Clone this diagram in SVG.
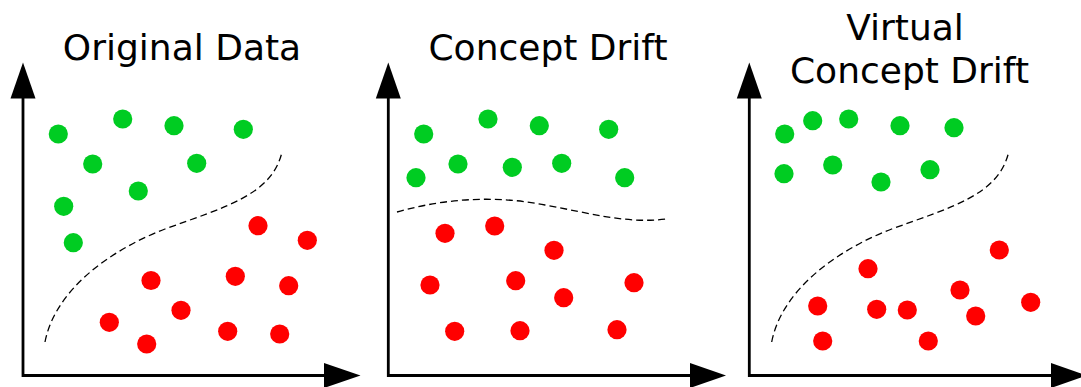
<svg xmlns="http://www.w3.org/2000/svg" width="1081" height="387" viewBox="0 0 1081 387">
<style>
.title{font-family:"DejaVu Sans","Verdana",sans-serif;font-size:36px;fill:#000;text-anchor:middle}
.axis{fill:none;stroke:#000;stroke-width:2.8;stroke-linejoin:miter}
.head{fill:#000}
.g{fill:#00cc22}
.r{fill:#ff0000}
.boundary{fill:none;stroke:#000;stroke-width:1.3;stroke-dasharray:7 4}
</style>
<rect width="1081" height="387" fill="#fff"/>
<g id="panel-original">
  <text class="title" x="182" y="60">Original Data</text>
  <g id="axes-1">
    <path class="axis" d="M23,97 V375.5 H326"/>
    <polygon class="head" points="23,62.5 10.5,98.5 35.5,98.5"/>
    <polygon class="head" points="360.5,375.5 324,363 324,388"/>
  </g>
  <g id="points-1">
    <circle class="g" cx="58.3" cy="134" r="9.6"/>
    <circle class="g" cx="122.7" cy="119" r="9.6"/>
    <circle class="g" cx="174" cy="125.7" r="9.6"/>
    <circle class="g" cx="243.3" cy="129.3" r="9.6"/>
    <circle class="g" cx="92.7" cy="164" r="9.6"/>
    <circle class="g" cx="196.7" cy="163.3" r="9.6"/>
    <circle class="g" cx="138.3" cy="191" r="9.6"/>
    <circle class="g" cx="63.7" cy="206.3" r="9.6"/>
    <circle class="g" cx="73.3" cy="242.7" r="9.6"/>
    <circle class="r" cx="258" cy="225.7" r="9.6"/>
    <circle class="r" cx="307.3" cy="240.3" r="9.6"/>
    <circle class="r" cx="151" cy="280.5" r="9.6"/>
    <circle class="r" cx="235.3" cy="276.3" r="9.6"/>
    <circle class="r" cx="288.7" cy="285.7" r="9.6"/>
    <circle class="r" cx="181" cy="310.3" r="9.6"/>
    <circle class="r" cx="109.3" cy="322.3" r="9.6"/>
    <circle class="r" cx="146.7" cy="344" r="9.6"/>
    <circle class="r" cx="227.7" cy="331.3" r="9.6"/>
    <circle class="r" cx="279.7" cy="334" r="9.6"/>
  </g>
  <path class="boundary" d="M45,342 C55,290 110,250 165,229 C225,207 272,195 282,152"/>
</g>
<g id="panel-concept-drift">
  <text class="title" x="548" y="60">Concept Drift</text>
  <g id="axes-2">
    <path class="axis" d="M388.3,97 V375.5 H692"/>
    <polygon class="head" points="388.3,62.5 375.8,98.5 400.8,98.5"/>
    <polygon class="head" points="726,375.5 690,363 690,388"/>
  </g>
  <g id="points-2">
    <circle class="g" cx="423.7" cy="134" r="9.6"/>
    <circle class="g" cx="488" cy="119" r="9.6"/>
    <circle class="g" cx="539.3" cy="125.7" r="9.6"/>
    <circle class="g" cx="608.7" cy="129.3" r="9.6"/>
    <circle class="g" cx="416" cy="177.7" r="9.6"/>
    <circle class="g" cx="458" cy="164" r="9.6"/>
    <circle class="g" cx="512.3" cy="167.3" r="9.6"/>
    <circle class="g" cx="561.7" cy="163.3" r="9.6"/>
    <circle class="g" cx="624.7" cy="177.7" r="9.6"/>
    <circle class="r" cx="445" cy="233.3" r="9.6"/>
    <circle class="r" cx="494.7" cy="226" r="9.6"/>
    <circle class="r" cx="554" cy="250.3" r="9.6"/>
    <circle class="r" cx="430" cy="285" r="9.6"/>
    <circle class="r" cx="515.7" cy="280.7" r="9.6"/>
    <circle class="r" cx="563.7" cy="297.7" r="9.6"/>
    <circle class="r" cx="634" cy="282.7" r="9.6"/>
    <circle class="r" cx="454.7" cy="331.3" r="9.6"/>
    <circle class="r" cx="520" cy="330.7" r="9.6"/>
    <circle class="r" cx="617" cy="329.7" r="9.6"/>
  </g>
  <path class="boundary" d="M397,212 C450,197 500,196 545,205 C590,213 625,224 667,219"/>
</g>
<g id="panel-virtual-drift">
  <text class="title" x="905" y="40">Virtual</text>
  <text class="title" x="909.5" y="83.3">Concept Drift</text>
  <g id="axes-3">
    <path class="axis" d="M749.3,97 V375.5 H1053"/>
    <polygon class="head" points="749.3,62.5 736.8,98.5 761.8,98.5"/>
    <polygon class="head" points="1087,375.5 1051,363 1051,388"/>
  </g>
  <g id="points-3">
    <circle class="g" cx="784.7" cy="134" r="9.6"/>
    <circle class="g" cx="812.7" cy="120.7" r="9.6"/>
    <circle class="g" cx="848.7" cy="119" r="9.6"/>
    <circle class="g" cx="900" cy="125.7" r="9.6"/>
    <circle class="g" cx="954" cy="127.7" r="9.6"/>
    <circle class="g" cx="784" cy="173.7" r="9.6"/>
    <circle class="g" cx="832.7" cy="165" r="9.6"/>
    <circle class="g" cx="881" cy="182" r="9.6"/>
    <circle class="g" cx="930" cy="169.7" r="9.6"/>
    <circle class="r" cx="999.3" cy="250" r="9.6"/>
    <circle class="r" cx="868" cy="268.7" r="9.6"/>
    <circle class="r" cx="960" cy="290" r="9.6"/>
    <circle class="r" cx="817.7" cy="306" r="9.6"/>
    <circle class="r" cx="876.7" cy="309.3" r="9.6"/>
    <circle class="r" cx="907.3" cy="310" r="9.6"/>
    <circle class="r" cx="1030.7" cy="302.3" r="9.6"/>
    <circle class="r" cx="975.7" cy="316" r="9.6"/>
    <circle class="r" cx="822.7" cy="341" r="9.6"/>
    <circle class="r" cx="928.3" cy="341" r="9.6"/>
  </g>
  <path class="boundary" d="M771.7,342 C781.7,290 836.7,250 891.7,229 C951.7,207 998.7,195 1008.7,152"/>
</g>
</svg>
